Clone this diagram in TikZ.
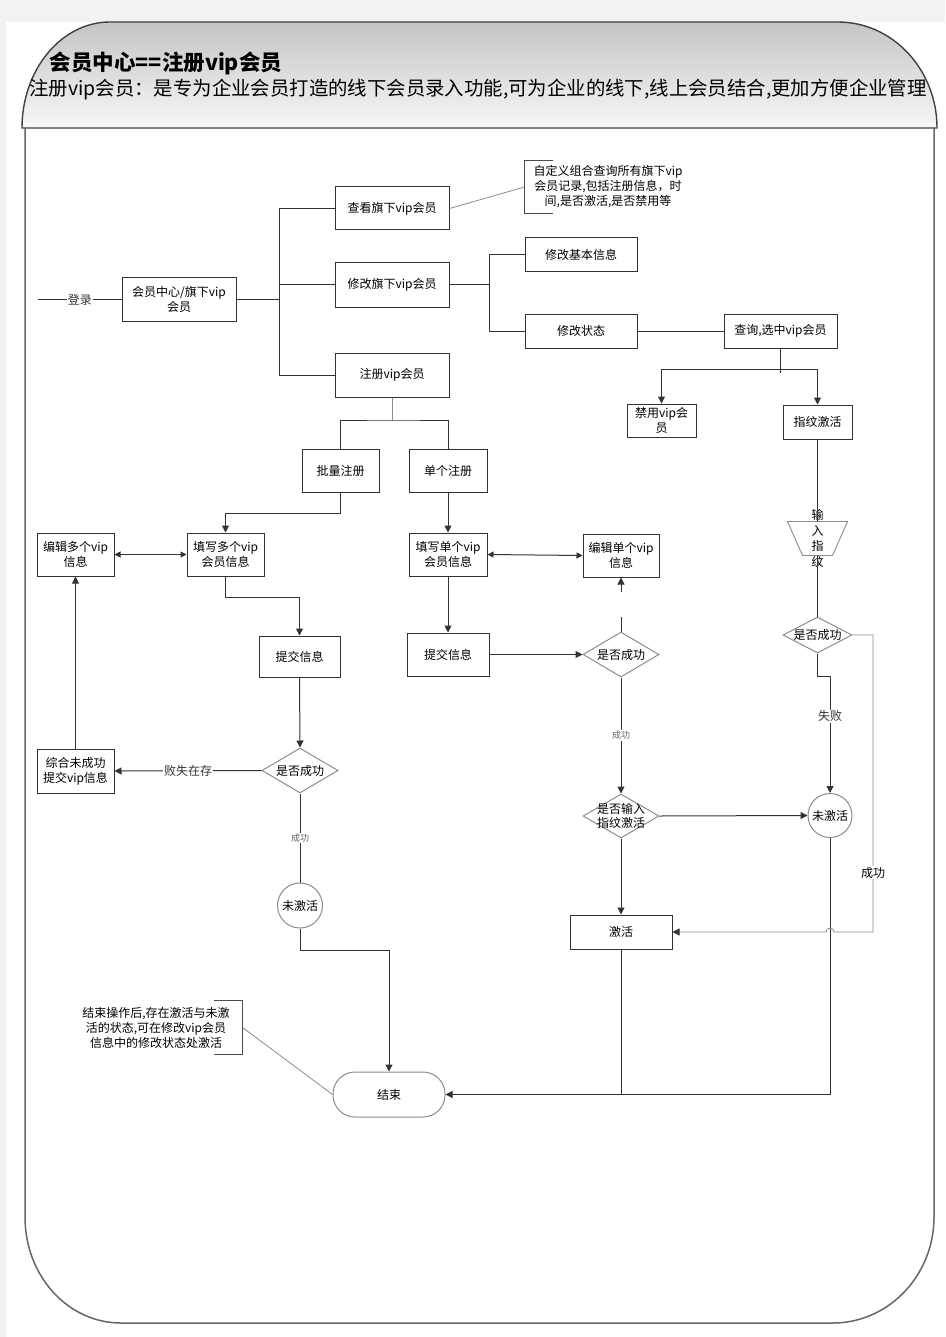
\documentclass[tikz,border=0pt]{standalone}
\usepackage{fontspec}
\newfontfamily\cjk{Noto Sans CJK SC}
\usetikzlibrary{arrows.meta,shapes.geometric,calc}

\begin{document}
\begin{tikzpicture}[x=1pt,y=-1pt,line width=1pt,
        caja/.style={draw=linea,fill=white,inner sep=0pt,align=center,
            font=\cjk\fontsize{12}{15}\selectfont,minimum width=#1,minimum height=43},
        caja/.default=77,
        rombo/.style={diamond,draw=gris,fill=white,inner sep=-6pt,aspect=1.7,align=center,
            font=\cjk\fontsize{12}{14}\selectfont,minimum width=76,minimum height=45},
        circulo/.style={circle,draw=gris,fill=white,inner sep=0pt,minimum size=44,
            font=\cjk\fontsize{12}{14}\selectfont},
        nota/.style={inner sep=0pt,align=center,font=\cjk\fontsize{12}{15}\selectfont},
        etiq/.style={fill=white,inner sep=1pt,font=\cjk\fontsize{12}{14}\selectfont},
        pequeno/.style={fill=white,inner sep=1pt,text=black!60,font=\cjk\fontsize{9}{10}\selectfont},
        flecha/.style={-{Triangle[width=7pt,length=7pt,color=linea]}},
        doble/.style={{Triangle[width=6pt,length=6pt]}-{Triangle[width=6pt,length=6pt]}}]
        %colores
        \colorlet{linea}{black!80}
        \colorlet{gris}{black!45}
        \colorlet{fondo}{black!5}
        \useasboundingbox (0,0) rectangle (945,1337);
        % Fondo y hoja
        \fill[fondo] (0,0) rectangle (945,1337);
        \fill[white] (6,22) rectangle (945,1337);
        % Cabecera con degradado
        \shade[top color=black!23,bottom color=black!3,draw=black!75,line width=1.4pt]
            (22,128) .. controls (22,70) and (61,22) .. (110,22) -- (838,22)
            .. controls (893,22) and (937,70) .. (937,128) -- cycle;
        % Cuerpo
        \draw[black!60,line width=1.5pt] (25,128) -- (25,1217) .. controls (25,1276) and (68,1323) .. (121,1323)
            -- (833,1323) .. controls (888,1323) and (934,1276) .. (934,1217) -- (934,128);
        \node[anchor=west,font=\cjk\bfseries\fontsize{21.5}{24}\selectfont] (titulo) at (46,63) {会员中心==注册vip会员};
        \node[font=\cjk\fontsize{19.4}{22}\selectfont] (resumen) at (478,89)
            {注册vip会员：是专为企业会员打造的线下会员录入功能,可为企业的线下,线上会员结合,更加方便企业管理};

        % Cajas
        \node[caja=114] (centro) at (179,299.5) {会员中心/旗下vip\\会员};
        \node[caja=114] (ver) at (392,208.5) {查看旗下vip会员};
        \node[caja=114,minimum height=44] (modif) at (392,285) {修改旗下vip会员};
        \node[caja=114,minimum height=44] (reg) at (392,375) {注册vip会员};
        \node[caja=112,minimum height=34] (basico) at (581,255) {修改基本信息};
        \node[caja=112,minimum height=34] (estado) at (581,331) {修改状态};
        \node[caja=113,minimum height=34] (consulta) at (780.5,331) {查询,选中vip会员};
        \node[caja=69,minimum height=33] (bloq) at (661.5,420.5) {禁用vip会\\员};
        \node[caja=69,minimum height=34] (huella) at (817.5,422) {指纹激活};
        \node[caja] (lote) at (340.5,470.5) {批量注册};
        \node[caja=78] (uno) at (448,470.5) {单个注册};
        \node[caja] (multi) at (225.5,554.5) {填写多个vip\\会员信息};
        \node[caja] (edmulti) at (75.5,554.5) {编辑多个vip\\信息};
        \node[caja=81,minimum height=41] (env1) at (299.5,656.5) {提交信息};
        \node[caja,minimum height=44] (falla) at (75.5,771) {综合未成功\\提交vip信息};
        \node[caja=78] (unico) at (448,554.5) {填写单个vip\\会员信息};
        \node[caja=82] (env2) at (448,654.5) {提交信息};
        \node[caja=76] (edunico) at (621,555.5) {编辑单个vip\\信息};
        \node[caja=102,minimum height=34] (activo) at (621,932) {激活};
        % Decisiones y estados
        \node[rombo] (dec1) at (300,770.5) {是否成功};
        \node[rombo] (dec2) at (621,654.5) {是否成功};
        \node[rombo,minimum height=44] (dec3) at (621,816) {是否输入\\指纹激活};
        \node[rombo,minimum width=69,minimum height=36] (dec4) at (817.5,635) {是否成功};
        \node[circulo,minimum size=45] (noact1) at (300,905.5) {未激活};
        \node[circulo] (noact2) at (830,815.5) {未激活};
        % Entrada manual (trapecio invertido)
        \node[inner sep=0pt,minimum width=59,minimum height=33,
            label={[font=\cjk\fontsize{12}{15.5}\selectfont,align=center]center:输\\入\\指\\纹}]
            (entrada) at (817.5,538.5) {};
        \draw[gris,line width=0.9pt] (entrada.north west) -- (entrada.north east)
            -- ($(entrada.south east)+(-15,0)$) -- ($(entrada.south west)+(15,0)$) -- cycle;
        \node[draw=gris,rounded corners=22pt,inner sep=0pt,minimum width=112,minimum height=45,
            font=\cjk\fontsize{12}{14}\selectfont] (fin) at (389,1094.5) {结束};
        % Notas
        \node[nota,minimum width=166,minimum height=52] (nota1) at (608,187)
            {自定义组合查询所有旗下vip\\会员记录,包括注册信息，时\\间,是否激活,是否禁用等};
        \node[nota,minimum width=172,minimum height=53] (nota2) at (156,1027.5)
            {结束操作后,存在激活与未激\\活的状态,可在修改vip会员\\信息中的修改状态处激活};
        \draw[black!70] ($(nota1.north west)+(28,0)$) -| (nota1.south west) -- ++(28,0);
        \draw[black!70] ($(nota2.north east)+(-29,0)$) -| (nota2.south east) -- ++(-29,0);
        \draw[gris,line width=0.8pt] (ver.east) -- (nota1.west);
        \draw[gris,line width=0.8pt] (nota2.east) -- (fin.west);

        % Puntos de paso
        \coordinate (inicio) at (38,299.5);
        \coordinate (tronco) at (279,299.5);
        \coordinate (rama) at (489,285);
        \coordinate (cruce) at (780.5,369);
        \coordinate (div) at (392,420);
        \coordinate (g1) at (621,617);
        \coordinate (g2) at (621,592);
        \coordinate (rodeo) at (873,932);

        % Conectores superiores
        \draw[linea] (inicio) -- node[etiq] {登录} (centro.west);
        \draw[linea] (centro.east) -- (tronco);
        \foreach \n in {ver,modif,reg}
            \draw[linea] (tronco) |- (\n.west);
        \draw[linea] (modif.east) -- (rama);
        \foreach \n in {basico,estado}
            \draw[linea] (rama) |- (\n.west);
        \draw[linea] (estado.east) -- (consulta.west);
        \draw[linea] (consulta.south) -- ++(0,24);
        \foreach \n in {bloq,huella}
            \draw[linea,flecha] (cruce) -| (\n.north);
        \draw[gris,line width=0.8pt] (reg.south) -- (div);
        \draw[linea] (lote.north) |- (div) -| (uno.north);

        % Registro por lote
        \draw[linea,flecha] (lote.south) -- ++(0,21) -| (multi.north);
        \draw[linea,doble] (edmulti.east) -- (multi.west);
        \draw[linea,flecha] (multi.south) -- ++(0,21) -| (env1.north);
        \draw[linea,flecha] (env1.south) -- (dec1.north);
        \draw[linea,flecha] (dec1.west) -- node[etiq] {败失在存} (falla.east);
        \draw[linea,flecha] (falla.north) -- (edmulti.south);
        \draw[linea] (dec1.south) -- node[pequeno] {成功} (noact1.north);
        \draw[linea,flecha] (noact1.south) -- ++(0,22) -| (fin.north);

        % Registro individual
        \draw[linea,flecha] (uno.south) -- (unico.north);
        \draw[linea,doble] (unico.east) -- (edunico.west);
        \draw[linea,flecha] (unico.south) -- (env2.north);
        \draw[linea,flecha] (env2.east) -- (dec2.west);
        \draw[linea] (dec2.north) -- (g1);
        \draw[linea,flecha] (g2) -- (edunico.south);
        \draw[linea,flecha] (dec2.south) -- node[pequeno] {成功} (dec3.north);
        \draw[linea,flecha] (dec3.east) -- (noact2.west);
        \draw[linea,flecha] (dec3.south) -- (activo.north);
        \draw[linea] (activo.south) -- (activo.south |- fin.east);
        \draw[linea,flecha] (noact2.south) |- (fin.east);

        % Activacion por huella
        \draw[linea] (huella.south) -- (entrada.north);
        \draw[linea] (entrada.south) -- (dec4.north);
        \draw[linea,flecha] (dec4.south) -- ++(0,23) -| node[pos=0.67,etiq] {失败} (noact2.north);
        \draw[gris,flecha,line width=0.8pt] (dec4.east) -| node[pos=0.9,etiq,text=black] {成功} (rodeo)
            -- (834,932) arc[start angle=0,end angle=-180,radius=4] -- (activo.east);
    \end{tikzpicture}
\end{document}
